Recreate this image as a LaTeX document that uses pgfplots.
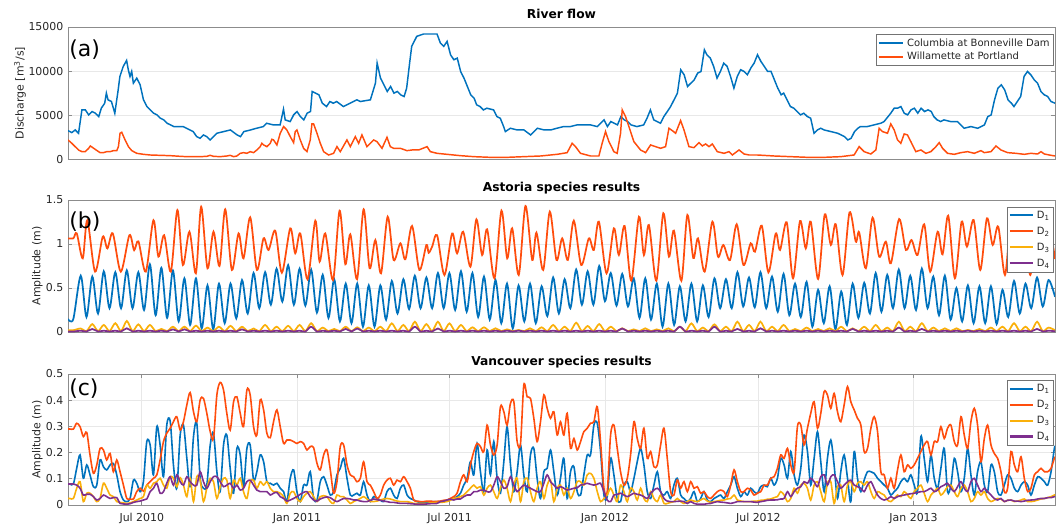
\documentclass[border=0pt]{standalone}
\usepackage{pgfplots}
\pgfplotsset{compat=1.18}
\usepackage{pgfplotstable}
\usepackage{fontspec}
\setmainfont{DejaVu Sans}

\definecolor{cblue}{RGB}{0,114,189}
\definecolor{cred}{RGB}{255,77,13}
\definecolor{cyel}{RGB}{250,176,10}
\definecolor{cpur}{RGB}{126,47,142}

% x values are days counted from 1 Jan 2010
% Columbia at Bonneville Dam, daily discharge (m^3/s)
\pgfplotstableread{
day q
93.5 3258
98 3030
102 3333
106 2955
110 5606
114 5606
118 5038
122 5417
126 5227
130 4849
133 5796
137 6364
139 7500
141 6743
145 6553
149 5227
153 7879
155 9394
159 10530
163 11212
165 10152
167 9394
169 9962
171 8636
175 9205
179 8447
183 6743
187 5985
191 5606
195 5227
199 5038
203 4659
207 4470
211 4091
215 3902
219 3712
222 3712
230 3712
238 3333
242 3144
246 2576
250 2386
254 2765
258 2576
262 2197
270 2955
278 3144
286 3333
294 2765
298 2576
302 3144
310 3333
317 3523
325 3712
329 4091
337 3902
345 3902
349 5682
351 4470
357 4280
361 5038
365 5417
369 4849
373 4470
377 5227
381 5417
383 7690
387 7500
391 7311
395 6364
400 5985
404 6553
408 6364
412 6553
420 5985
428 6364
436 6743
440 6553
452 6743
458 8636
460 10909
464 9205
468 8447
472 7690
476 8258
480 7500
484 7690
488 7311
492 7121
495 8068
499 11288
501 12803
507 13940
515 14205
523 14205
531 14205
535 13182
539 12803
543 13372
547 11856
551 11288
555 11478
559 9962
563 9205
567 8258
571 7311
575 6932
578 6174
582 5985
586 5606
590 5796
598 5606
602 4849
606 4659
610 3712
612 3144
618 3523
626 3333
634 3333
642 2765
650 3523
658 3333
666 3333
673 3523
681 3712
689 3712
697 3902
705 3902
713 3902
721 3712
729 4470
733 3712
737 4280
745 3902
749 4849
753 4470
757 4280
761 3902
768 3712
776 3902
780 4659
784 5606
788 4470
792 4280
796 4091
800 4849
804 5417
808 5985
812 6743
816 7500
820 10152
824 9584
828 8258
832 8636
836 9015
840 9773
844 9962
848 12424
851 11856
855 11478
859 10530
863 9205
867 9962
871 10909
875 10530
879 9394
883 8068
887 9394
891 10152
895 9962
899 9584
903 10341
907 10909
911 11856
915 11099
919 10530
923 9962
927 9962
931 9015
935 8068
939 7311
942 7500
946 6743
950 5985
954 5796
958 5417
962 5038
966 5227
970 4849
974 4659
978 2955
982 3333
986 3523
990 3333
998 3144
1006 2955
1014 2576
1018 2197
1022 2386
1026 3144
1030 3523
1033 3712
1041 3712
1049 3902
1057 4091
1061 4280
1069 5227
1073 5796
1077 5796
1081 5985
1085 5227
1089 5038
1093 5606
1097 5796
1101 5227
1105 5796
1109 5417
1113 5606
1117 5417
1120 4849
1124 4470
1128 4280
1132 4470
1140 4280
1148 4280
1152 3902
1156 3523
1164 3712
1172 3523
1180 3902
1184 4849
1188 5038
1192 6743
1196 8068
1200 8447
1204 7879
1208 6743
1212 6364
1215 5985
1219 6553
1223 7121
1227 9394
1231 9962
1235 9584
1239 9015
1243 8636
1247 7690
1251 7311
1255 7121
1259 6553
1263.7 6364
}\columbia

% Willamette at Portland, daily discharge (m^3/s)
\pgfplotstableread{
day q
93.5 2197
98 1818
102 1439
106 1061
110 871
114 871
118 1250
120 1515
124 1250
128 985
131.5 758
135.5 758
139.4 871
143.4 871
147.3 985
151.3 985
153.3 1439
155.2 2955
157.2 3068
161.2 2197
165.1 1439
169.1 985
175 682
183 568
190.8 492
202.7 455
214.6 417
226.5 341
234.4 303
242.3 303
250.2 303
258.1 341
262 455
266 341
273.9 303
281.8 379
285.8 455
289.8 303
293.7 379
297.7 682
301.6 758
305.6 682
309.5 871
313.5 758
317.4 1061
321.4 1439
323.4 1818
325.4 1629
329.3 1439
333.3 1818
335.2 2273
337.2 2197
341.2 1629
345.1 2955
349.1 3712
353 3333
357 2576
361 1894
362.9 3144
364.9 3333
368.9 2197
372.8 1250
376.8 871
380.7 2197
382.7 4015
384.7 4015
388.7 2955
392.6 1818
396.6 871
402.5 492
408.4 682
412.4 1439
416.3 871
424.2 2197
428.2 1439
434.1 2576
438.1 1818
442 2765
447.9 1439
455.9 2197
459.8 2008
465.8 1250
471.7 2500
475.6 1439
479.6 1250
487.5 1250
495.4 985
501.4 1061
509.3 1061
519.2 1439
523.1 871
531 682
542.9 568
558.7 417
574.5 303
594.3 227
614.1 227
633.9 303
653.7 379
673.4 568
685.3 758
691.2 1818
695.2 1439
701.1 682
713 379
722.9 379
726.8 1818
730.8 3144
734.8 2008
740.7 871
744.6 682
748.6 2955
750.6 5606
754.5 4849
758.5 3712
764.4 2008
772.3 1061
778.3 758
784.2 1629
790.1 1439
796.1 1250
802 1439
806 3523
809.9 3258
813.9 2955
819.8 4394
823.8 3333
829.7 1439
835.6 1326
841.6 1894
845.5 1515
849.5 1742
853.5 1439
857.4 1742
863.3 871
871.3 682
877.2 871
881.1 492
889.1 1061
895 606
900.9 492
910.8 492
930.6 379
950.4 303
970.2 227
989.9 227
1009.7 303
1025.5 492
1031.5 1439
1037.4 871
1045.3 606
1051.3 1061
1055.2 3523
1059.2 3144
1065.1 2955
1069 4015
1073 3333
1077 2197
1080.9 1818
1084.9 2879
1088.8 2765
1092.8 2008
1098.7 871
1104.7 1061
1110.6 682
1116.5 871
1122.5 1439
1126.4 1894
1130.4 1250
1136.3 682
1144.2 568
1152.1 758
1160 871
1168 682
1175.9 985
1179.8 758
1187.8 871
1193.7 1515
1199.6 1061
1207.5 758
1217.4 682
1227.3 568
1235.2 682
1243.1 606
1247.1 871
1251 606
1259 455
1263.7 379
}\willamette

% Astoria: envelope extremes of D1, D3, D4 (m)
\pgfplotstableread{
day d1 d3 d4
93.5 0.148 0.020 0.005
99.8 0.148 0.020 0.005
108.6 0.64 0.04 0.015
115.4 0.17 0.010 0.006
122.3 0.63 0.09 0.034
129.1 0.21 0.010 0.006
135.9 0.69 0.08 0.015
142.7 0.27 0.010 0.006
149.6 0.68 0.10 0.015
156.4 0.27 0.010 0.006
163.2 0.70 0.125 0.042
170.0 0.27 0.010 0.006
176.9 0.68 0.087 0.015
183.7 0.25 0.010 0.006
190.6 0.77 0.08 0.015
197.4 0.19 0.010 0.006
204.2 0.73 0.035 0.015
211.0 0.16 0.010 0.006
217.9 0.70 0.06 0.03
224.7 0.12 0.010 0.006
231.5 0.61 0.06 0.03
238.3 0.08 0.010 0.006
245.2 0.61 0.072 0.015
252.0 0.04 0.010 0.006
258.9 0.53 0.05 0.015
265.7 0.03 0.010 0.006
272.5 0.55 0.06 0.015
279.3 0.10 0.010 0.006
286.2 0.55 0.07 0.015
293.0 0.155 0.010 0.006
299.8 0.59 0.06 0.03
306.6 0.21 0.010 0.006
313.5 0.67 0.04 0.015
320.3 0.27 0.010 0.006
327.2 0.68 0.08 0.015
334.0 0.31 0.010 0.006
340.8 0.72 0.06 0.015
347.6 0.345 0.010 0.006
354.5 0.76 0.07 0.015
361.3 0.31 0.010 0.006
368.1 0.72 0.08 0.015
374.9 0.30 0.010 0.006
381.8 0.71 0.10 0.06
388.6 0.22 0.010 0.006
395.5 0.65 0.05 0.015
402.3 0.16 0.010 0.006
409.1 0.60 0.035 0.015
415.9 0.12 0.010 0.006
422.8 0.55 0.06 0.035
429.6 0.10 0.010 0.006
436.4 0.55 0.053 0.04
443.2 0.06 0.010 0.006
450.1 0.53 0.05 0.015
456.9 0.06 0.010 0.006
463.8 0.53 0.06 0.015
470.6 0.14 0.010 0.006
477.4 0.58 0.098 0.015
484.2 0.21 0.010 0.006
491.1 0.60 0.08 0.015
497.9 0.26 0.010 0.006
504.7 0.64 0.117 0.06
511.5 0.27 0.010 0.006
518.4 0.62 0.09 0.015
525.2 0.27 0.010 0.006
532.1 0.67 0.117 0.04
538.9 0.27 0.010 0.006
545.7 0.67 0.098 0.015
552.5 0.25 0.010 0.006
559.4 0.69 0.08 0.015
566.2 0.23 0.010 0.006
573.0 0.67 0.053 0.015
579.8 0.17 0.010 0.006
586.7 0.63 0.053 0.015
593.5 0.14 0.010 0.006
600.4 0.59 0.042 0.015
607.2 0.10 0.010 0.006
614.0 0.55 0.03 0.015
620.8 0.04 0.010 0.006
627.7 0.53 0.023 0.015
634.5 0.12 0.010 0.006
641.3 0.55 0.042 0.015
648.1 0.10 0.010 0.006
655.0 0.52 0.053 0.015
661.8 0.18 0.010 0.006
668.7 0.62 0.08 0.015
675.5 0.21 0.010 0.006
682.3 0.60 0.06 0.015
689.1 0.27 0.010 0.006
696.0 0.71 0.106 0.015
702.8 0.31 0.010 0.006
709.6 0.69 0.068 0.015
716.4 0.31 0.010 0.006
723.3 0.75 0.09 0.015
730.1 0.35 0.010 0.006
737.0 0.67 0.06 0.015
743.8 0.30 0.010 0.006
750.6 0.66 0.042 0.04
757.4 0.29 0.010 0.006
764.3 0.61 0.03 0.015
771.1 0.16 0.010 0.006
777.9 0.61 0.042 0.015
784.7 0.14 0.010 0.006
791.6 0.55 0.03 0.015
798.4 0.06 0.010 0.006
805.3 0.55 0.042 0.015
812.1 0.08 0.010 0.006
818.9 0.52 0.06 0.06
825.7 0.12 0.010 0.006
832.6 0.55 0.098 0.015
839.4 0.12 0.010 0.006
846.2 0.53 0.05 0.015
853.0 0.17 0.010 0.006
859.9 0.61 0.087 0.06
866.7 0.27 0.010 0.006
873.6 0.60 0.06 0.015
880.4 0.27 0.010 0.006
887.2 0.68 0.117 0.035
894.0 0.29 0.010 0.006
900.9 0.62 0.08 0.015
907.7 0.28 0.010 0.006
914.5 0.68 0.117 0.042
921.3 0.27 0.010 0.006
928.2 0.63 0.06 0.015
935.0 0.23 0.010 0.006
941.9 0.66 0.08 0.015
948.7 0.19 0.010 0.006
955.5 0.55 0.034 0.015
962.3 0.17 0.010 0.006
969.2 0.57 0.05 0.015
976.0 0.06 0.010 0.006
982.8 0.48 0.034 0.015
989.6 0.10 0.010 0.006
996.5 0.52 0.042 0.015
1003.3 0.03 0.010 0.006
1010.2 0.46 0.06 0.015
1017.0 0.08 0.010 0.006
1023.8 0.55 0.042 0.035
1030.6 0.16 0.010 0.006
1037.5 0.56 0.06 0.015
1044.3 0.21 0.010 0.006
1051.1 0.67 0.08 0.015
1057.9 0.23 0.010 0.006
1064.8 0.65 0.05 0.015
1071.6 0.27 0.010 0.006
1078.5 0.71 0.117 0.05
1085.3 0.27 0.010 0.006
1092.1 0.64 0.06 0.015
1098.9 0.25 0.010 0.006
1105.8 0.72 0.10 0.035
1112.6 0.27 0.010 0.006
1119.4 0.63 0.05 0.015
1126.2 0.19 0.010 0.006
1133.1 0.64 0.042 0.015
1139.9 0.14 0.010 0.006
1146.8 0.50 0.042 0.015
1153.6 0.12 0.010 0.006
1160.4 0.53 0.023 0.015
1167.2 0.10 0.010 0.006
1174.1 0.52 0.034 0.015
1180.9 0.10 0.010 0.006
1187.7 0.52 0.05 0.015
1194.5 0.09 0.010 0.006
1201.4 0.48 0.06 0.015
1208.2 0.17 0.010 0.006
1215.1 0.58 0.10 0.015
1221.9 0.21 0.010 0.006
1228.7 0.55 0.06 0.015
1235.5 0.27 0.010 0.006
1242.4 0.62 0.117 0.035
1249.2 0.29 0.010 0.006
1256.0 0.59 0.05 0.015
1263.7 0.40 0.020 0.008
}\astoriaA

% Astoria: envelope extremes of D2 (m)
\pgfplotstableread{
day d2
93.5 1.064
99.8 1.064
103.9 1.12
111.0 0.837
116.4 1.27
125.6 0.686
134.7 1.083
140.2 0.95
146.6 1.12
156.1 0.686
166.3 1.10
171.9 0.93
177.0 1.03
185.7 0.686
194.8 1.27
200.7 0.856
207.5 1.10
215.4 0.686
223.2 1.386
229.7 0.761
237.5 1.14
245.1 0.667
251.4 1.424
258.9 0.724
266.0 1.14
273.1 0.75
279.9 1.394
287.8 0.705
295.7 1.12
301.6 0.837
309.5 1.303
317.5 0.705
325.3 1.064
331.3 0.932
339.2 1.152
347.1 0.674
357.0 1.178
362.9 0.894
368.9 1.12
377.5 0.598
386.7 1.265
391.8 0.80
398.5 1.12
407.7 0.59
415.5 1.379
422.3 0.77
428.2 1.11
436.2 0.60
444.0 1.394
451.1 0.724
457.9 1.045
464.6 0.667
472.5 1.31
479.6 0.818
487.6 1.008
493.5 0.826
501.4 1.205
510.1 0.705
518.4 0.989
521.1 0.90
525.2 0.97
531.1 1.10
539.8 0.648
548.9 1.12
554.8 0.894
562.0 1.14
570.6 0.742
577.7 1.28
584.5 0.875
590.4 1.167
599.1 0.61
607.4 1.379
614.2 0.837
620.1 1.178
627.9 0.648
635.9 1.432
643.9 0.818
648.9 1.129
656.9 0.705
664.7 1.367
672.7 0.818
679.4 1.064
686.1 0.818
693.2 1.265
702.0 0.761
711.0 1.064
716.9 0.932
722.9 1.254
732.0 0.667
740.7 1.178
746.6 0.875
753.4 1.205
761.3 0.583
770.4 1.31
776.3 0.875
782.2 1.216
791.0 0.583
799.3 1.349
806.0 0.856
811.9 1.152
820.7 0.583
827.8 1.33
834.9 0.84
840.4 1.064
848.3 0.686
857.5 1.254
864.1 0.856
870.5 0.989
878.4 0.818
886.3 1.224
894.3 0.761
902.9 1.008
908.0 0.913
916.0 1.208
923.9 0.678
932.6 1.12
937.7 0.932
945.6 1.246
953.1 0.61
961.4 1.261
968.2 0.95
974.1 1.254
982.8 0.602
990.7 1.337
997.9 0.989
1003.8 1.224
1011.8 0.648
1020.1 1.36
1027.5 1.027
1031.5 1.133
1039.4 0.724
1047.4 1.30
1055.2 0.856
1063.1 1.027
1069.1 0.78
1078.9 1.284
1086.9 0.932
1093.6 1.045
1100.7 0.875
1108.6 1.224
1115.7 0.686
1124.5 1.14
1130.4 0.883
1137.1 1.322
1145.0 0.61
1153.0 1.254
1159.3 0.97
1167.2 1.273
1175.1 0.705
1183.0 1.292
1189.8 0.989
1196.4 1.197
1204.4 0.648
1211.5 1.273
1219.4 0.875
1227.3 1.216
1234.4 0.648
1243.2 1.29
1250.3 0.91
1256.9 1.178
1263.7 0.83
}\astoriaB

% Vancouver: species amplitudes (m)
\pgfplotstableread{
day d1 d2 d3 d4
93.5 0.080 0.290 0.025 0.080
95.9 0.080 0.290 0.025 0.080
99.9 0.080 0.290 0.025 0.080
103.8 0.140 0.312 0.064 0.076
107.8 0.191 0.299 0.089 0.064
111.7 0.102 0.261 0.013 0.038
115.7 0.153 0.277 0.045 0.041
119.6 0.115 0.191 0.045 0.041
123.6 0.070 0.121 0.032 0.032
127.6 0.076 0.153 0.013 0.019
131.5 0.172 0.216 0.025 0.025
135.5 0.146 0.210 0.083 0.038
139.4 0.134 0.172 0.064 0.032
143.4 0.153 0.197 0.038 0.025
147.3 0.159 0.127 0.032 0.028
151.3 0.115 0.172 0.013 0.028
155.2 0.051 0.127 0.010 0.006
159.2 0.019 0.076 0.008 0.004
163.2 0.013 0.025 0.006 0.003
167.1 0.025 0.023 0.008 0.005
171.1 0.095 0.023 0.013 0.010
175.0 0.083 0.051 0.019 0.013
179.0 0.051 0.064 0.025 0.015
182.9 0.089 0.053 0.032 0.019
186.9 0.242 0.076 0.076 0.023
190.9 0.229 0.089 0.064 0.051
194.8 0.115 0.102 0.083 0.064
198.8 0.299 0.115 0.089 0.083
202.7 0.229 0.172 0.102 0.045
206.7 0.108 0.242 0.076 0.051
210.6 0.305 0.274 0.064 0.083
214.6 0.321 0.293 0.108 0.108
218.5 0.153 0.318 0.102 0.076
222.5 0.064 0.337 0.070 0.115
226.5 0.267 0.286 0.104 0.089
230.4 0.305 0.318 0.076 0.076
234.4 0.178 0.382 0.032 0.108
238.3 0.070 0.429 0.102 0.089
242.3 0.261 0.356 0.013 0.076
246.2 0.312 0.318 0.108 0.076
250.2 0.102 0.401 0.095 0.127
254.1 0.064 0.407 0.013 0.089
258.1 0.076 0.350 0.064 0.064
262.1 0.229 0.280 0.102 0.089
266.0 0.274 0.254 0.089 0.108
270.0 0.127 0.420 0.025 0.108
273.9 0.051 0.468 0.070 0.089
277.9 0.229 0.439 0.102 0.070
281.8 0.267 0.350 0.095 0.076
285.8 0.140 0.286 0.025 0.083
289.8 0.045 0.394 0.095 0.064
293.7 0.216 0.413 0.076 0.076
297.7 0.191 0.350 0.102 0.057
301.6 0.070 0.299 0.051 0.064
305.6 0.216 0.439 0.025 0.089
309.5 0.229 0.420 0.089 0.095
313.5 0.095 0.299 0.095 0.076
317.4 0.127 0.267 0.064 0.057
321.4 0.191 0.401 0.089 0.051
325.4 0.165 0.363 0.076 0.051
329.3 0.089 0.274 0.089 0.051
333.3 0.083 0.257 0.064 0.038
337.2 0.076 0.318 0.051 0.045
341.2 0.083 0.363 0.051 0.048
345.1 0.064 0.299 0.045 0.032
349.1 0.051 0.235 0.032 0.025
353.0 0.013 0.248 0.006 0.015
357.0 0.102 0.248 0.045 0.019
361.0 0.134 0.242 0.051 0.025
364.9 0.051 0.235 0.025 0.032
368.9 0.013 0.242 0.013 0.041
372.8 0.076 0.235 0.032 0.048
376.8 0.076 0.210 0.045 0.051
380.7 0.127 0.223 0.051 0.032
384.7 0.025 0.219 0.032 0.019
388.7 0.019 0.159 0.013 0.015
392.6 0.089 0.134 0.032 0.023
396.6 0.108 0.191 0.036 0.028
400.5 0.076 0.210 0.032 0.031
404.5 0.038 0.134 0.013 0.028
408.4 0.051 0.045 0.006 0.019
412.4 0.115 0.089 0.038 0.013
416.3 0.140 0.223 0.032 0.019
420.3 0.178 0.229 0.032 0.025
424.3 0.102 0.153 0.019 0.025
428.2 0.038 0.115 0.006 0.023
432.2 0.038 0.108 0.013 0.019
436.1 0.045 0.089 0.019 0.019
440.1 0.038 0.102 0.025 0.015
444.0 0.089 0.165 0.032 0.013
448.0 0.038 0.089 0.023 0.013
451.9 0.013 0.076 0.013 0.018
455.9 0.032 0.051 0.013 0.023
459.9 0.025 0.025 0.015 0.020
463.8 0.019 0.038 0.019 0.018
467.8 0.013 0.076 0.023 0.015
471.7 0.051 0.095 0.025 0.013
475.7 0.064 0.102 0.023 0.010
479.6 0.038 0.076 0.019 0.010
483.6 0.025 0.095 0.015 0.008
487.6 0.064 0.089 0.013 0.006
491.5 0.076 0.108 0.013 0.006
495.5 0.038 0.089 0.013 0.006
499.4 0.025 0.064 0.010 0.005
503.4 0.019 0.019 0.006 0.004
507.3 0.013 0.015 0.006 0.003
511.3 0.009 0.013 0.006 0.003
515.2 0.008 0.013 0.006 0.003
519.2 0.010 0.015 0.006 0.004
523.2 0.013 0.015 0.008 0.005
527.1 0.013 0.013 0.009 0.005
531.1 0.013 0.014 0.010 0.006
535.0 0.013 0.015 0.010 0.013
539.0 0.015 0.018 0.011 0.015
542.9 0.019 0.019 0.013 0.019
546.9 0.023 0.025 0.018 0.022
550.8 0.025 0.032 0.025 0.019
554.8 0.032 0.045 0.028 0.023
558.8 0.045 0.089 0.032 0.023
562.7 0.076 0.115 0.038 0.032
566.7 0.102 0.089 0.051 0.038
570.6 0.165 0.153 0.064 0.038
574.6 0.115 0.204 0.076 0.051
578.5 0.235 0.235 0.064 0.051
582.5 0.127 0.223 0.070 0.057
586.5 0.051 0.204 0.038 0.057
590.4 0.210 0.305 0.064 0.051
594.4 0.115 0.229 0.076 0.051
598.3 0.242 0.191 0.051 0.076
602.3 0.102 0.229 0.025 0.108
606.2 0.045 0.375 0.064 0.089
610.2 0.165 0.356 0.095 0.064
614.1 0.299 0.305 0.064 0.070
618.1 0.153 0.388 0.013 0.108
622.1 0.051 0.394 0.076 0.076
626.0 0.127 0.242 0.102 0.051
630.0 0.229 0.235 0.013 0.064
633.9 0.115 0.458 0.089 0.076
637.9 0.051 0.413 0.102 0.070
641.8 0.191 0.407 0.051 0.064
645.8 0.216 0.331 0.013 0.057
649.7 0.102 0.242 0.064 0.051
653.7 0.025 0.318 0.089 0.051
657.7 0.127 0.420 0.025 0.083
661.6 0.140 0.369 0.076 0.115
665.6 0.210 0.331 0.095 0.089
669.5 0.127 0.356 0.013 0.076
673.5 0.038 0.267 0.064 0.064
677.4 0.102 0.318 0.076 0.070
681.4 0.178 0.267 0.038 0.064
685.3 0.025 0.350 0.064 0.057
689.3 0.127 0.216 0.025 0.060
693.3 0.146 0.254 0.051 0.064
697.2 0.051 0.210 0.089 0.066
701.2 0.038 0.242 0.089 0.076
705.1 0.115 0.280 0.076 0.079
709.1 0.191 0.293 0.115 0.083
713.0 0.191 0.312 0.121 0.079
717.0 0.305 0.318 0.102 0.076
721.0 0.312 0.375 0.051 0.079
724.9 0.204 0.242 0.013 0.083
728.9 0.038 0.064 0.025 0.051
732.8 0.032 0.051 0.038 0.019
736.8 0.178 0.267 0.064 0.013
740.7 0.115 0.305 0.038 0.038
744.7 0.025 0.216 0.013 0.041
748.6 0.013 0.127 0.076 0.045
752.6 0.076 0.076 0.051 0.038
756.6 0.089 0.102 0.013 0.032
760.5 0.051 0.191 0.064 0.038
764.5 0.102 0.318 0.051 0.045
768.4 0.165 0.254 0.019 0.041
772.4 0.216 0.216 0.064 0.038
776.3 0.153 0.293 0.025 0.032
780.3 0.051 0.178 0.013 0.025
784.3 0.025 0.204 0.051 0.045
788.2 0.076 0.146 0.025 0.057
792.2 0.127 0.153 0.013 0.064
796.1 0.051 0.229 0.038 0.051
800.1 0.038 0.293 0.006 0.025
804.0 0.051 0.178 0.006 0.015
808.0 0.025 0.051 0.010 0.013
811.9 0.076 0.038 0.013 0.013
815.9 0.102 0.095 0.025 0.014
819.9 0.038 0.064 0.013 0.015
823.8 0.025 0.089 0.006 0.013
827.8 0.013 0.051 0.013 0.006
831.7 0.025 0.089 0.019 0.013
835.7 0.051 0.064 0.015 0.006
839.6 0.013 0.070 0.013 0.003
843.6 0.025 0.045 0.019 0.003
847.5 0.051 0.051 0.025 0.003
851.5 0.019 0.032 0.015 0.005
855.5 0.013 0.025 0.010 0.006
859.4 0.025 0.038 0.013 0.010
863.4 0.032 0.051 0.015 0.013
867.3 0.038 0.057 0.018 0.011
871.3 0.025 0.051 0.019 0.010
875.2 0.051 0.032 0.023 0.008
879.2 0.076 0.076 0.025 0.006
883.2 0.108 0.134 0.038 0.009
887.1 0.064 0.089 0.019 0.013
891.1 0.032 0.051 0.015 0.013
895.0 0.051 0.051 0.013 0.013
899.0 0.038 0.064 0.013 0.013
902.9 0.064 0.057 0.013 0.013
906.9 0.051 0.038 0.015 0.011
910.8 0.045 0.045 0.015 0.010
914.8 0.070 0.051 0.018 0.013
918.8 0.076 0.076 0.019 0.015
922.7 0.070 0.076 0.022 0.018
926.7 0.102 0.102 0.023 0.019
930.6 0.076 0.108 0.028 0.019
934.6 0.102 0.140 0.032 0.020
938.5 0.178 0.191 0.051 0.023
942.5 0.153 0.178 0.038 0.025
946.5 0.102 0.216 0.013 0.051
950.4 0.204 0.153 0.025 0.032
954.4 0.115 0.127 0.064 0.051
958.3 0.076 0.299 0.045 0.064
962.3 0.140 0.305 0.076 0.070
966.2 0.267 0.229 0.083 0.089
970.2 0.204 0.293 0.064 0.083
974.1 0.076 0.350 0.019 0.102
978.1 0.178 0.394 0.076 0.089
982.1 0.280 0.293 0.089 0.070
986.0 0.165 0.350 0.051 0.108
990.0 0.051 0.433 0.013 0.115
993.9 0.178 0.420 0.083 0.076
997.9 0.248 0.369 0.089 0.108
1001.8 0.153 0.426 0.006 0.115
1005.8 0.025 0.356 0.070 0.089
1009.7 0.127 0.318 0.076 0.064
1013.7 0.191 0.382 0.013 0.076
1017.7 0.102 0.452 0.076 0.089
1021.6 0.013 0.394 0.089 0.095
1025.6 0.204 0.363 0.051 0.076
1029.5 0.102 0.331 0.083 0.070
1033.5 0.051 0.305 0.089 0.064
1037.4 0.095 0.204 0.076 0.051
1041.4 0.127 0.216 0.089 0.076
1045.4 0.127 0.293 0.051 0.089
1049.3 0.121 0.337 0.025 0.064
1053.3 0.102 0.280 0.051 0.038
1057.2 0.089 0.127 0.045 0.025
1061.2 0.076 0.115 0.038 0.019
1065.1 0.064 0.064 0.019 0.023
1069.1 0.038 0.102 0.013 0.032
1073.0 0.051 0.064 0.025 0.025
1077.0 0.064 0.134 0.038 0.032
1081.0 0.089 0.191 0.032 0.036
1084.9 0.102 0.127 0.051 0.038
1088.9 0.089 0.153 0.038 0.041
1092.8 0.115 0.140 0.025 0.043
1096.8 0.076 0.153 0.051 0.045
1100.7 0.051 0.178 0.064 0.048
1104.7 0.261 0.204 0.076 0.051
1108.6 0.178 0.229 0.045 0.051
1112.6 0.089 0.242 0.013 0.057
1116.6 0.191 0.191 0.038 0.064
1120.5 0.102 0.242 0.051 0.051
1124.5 0.064 0.242 0.064 0.057
1128.4 0.140 0.299 0.038 0.070
1132.4 0.216 0.254 0.051 0.076
1136.3 0.051 0.293 0.070 0.083
1140.3 0.076 0.305 0.076 0.064
1144.3 0.178 0.242 0.051 0.051
1148.2 0.127 0.229 0.032 0.070
1152.2 0.051 0.337 0.064 0.089
1156.1 0.102 0.267 0.076 0.064
1160.1 0.216 0.216 0.051 0.051
1164.0 0.115 0.318 0.013 0.089
1168.0 0.038 0.369 0.025 0.102
1171.9 0.127 0.305 0.051 0.076
1175.9 0.165 0.165 0.038 0.051
1179.9 0.076 0.254 0.051 0.064
1183.8 0.051 0.305 0.025 0.051
1187.8 0.153 0.229 0.013 0.038
1191.7 0.127 0.197 0.019 0.025
1195.7 0.051 0.178 0.025 0.019
1199.6 0.038 0.127 0.023 0.025
1203.6 0.076 0.051 0.013 0.013
1207.5 0.115 0.064 0.018 0.018
1211.5 0.102 0.204 0.019 0.019
1215.5 0.064 0.153 0.013 0.015
1219.4 0.051 0.127 0.015 0.015
1223.4 0.076 0.184 0.019 0.013
1227.3 0.089 0.102 0.023 0.015
1231.3 0.076 0.051 0.013 0.018
1235.2 0.038 0.064 0.013 0.019
1239.2 0.076 0.115 0.015 0.020
1243.2 0.108 0.127 0.019 0.023
1247.1 0.102 0.140 0.023 0.025
1251.1 0.089 0.127 0.025 0.025
1255.0 0.076 0.127 0.028 0.028
1259.0 0.127 0.140 0.032 0.028
1262.9 0.216 0.178 0.038 0.032
1263.7 0.220 0.180 0.038 0.032
}\vancouver

\pgfplotsset{
  panel/.style={
    scale only axis,
    width=740.25pt,
    xmin=93.5, xmax=1263.7,
    axis line style={draw=black!45, line width=0.5pt},
    major tick style={draw=black!45, line width=0.5pt},
    major tick length=3pt,
    ymajorgrids,
    grid style={draw=black!9, line width=0.5pt},
    tick label style={font=\fontsize{8.2}{9}\selectfont, text=black!85},
    /pgf/number format/assume math mode=true,
    label style={font=\fontsize{8.2}{9}\selectfont, text=black!85},
    every axis title/.style={at={(0.5,1)}, anchor=base, yshift=6.7pt,
      font=\bfseries\fontsize{9.2}{10}\selectfont},
    legend cell align=left,
    legend style={draw=black!55, line width=0.5pt, fill=white,
      font=\fontsize{7.5}{8.5}\selectfont, text=black!85,
      inner xsep=1pt, inner ysep=1pt, row sep=1pt},
    legend image code/.code={\draw[#1, line width=1.6pt] (0pt,0.25pt) -- (17.5pt,0.25pt);},
  },
}
\tikzset{plab/.style={font=\fontsize{16.5}{18}\selectfont, inner sep=0pt, anchor=west}}

\begin{document}
\begin{tikzpicture}
\path[use as bounding box] (0pt,0pt) rectangle (792pt,394.5pt);

% (a) river discharge
\begin{axis}[panel,
  at={(51pt,275pt)}, anchor=south west, height=99.25pt,
  ymin=0, ymax=15000, ytick={0,5000,10000,15000},
  scaled y ticks=false,
  yticklabel style={/pgf/number format/1000 sep={}},
  xtick=\empty,
  title={River flow},
  ylabel={Discharge [m\textsuperscript{3}/s]},
  ylabel style={at={(axis description cs:-0.0486,0.5)}, anchor=center},
  legend style={at={(0.999,0.945)}, anchor=north east, row sep=-1pt},
  legend image code/.code={\draw[#1, line width=1.6pt] (0pt,0.25pt) -- (18.5pt,0.25pt);},
]
\addplot[cblue, line width=1.1pt] table[x=day, y=q] {\columbia};
\addlegendentry{Columbia at Bonneville Dam}
\addplot[cred, line width=1.1pt] table[x=day, y=q] {\willamette};
\addlegendentry{Willamette at Portland}
\node[plab] at (rel axis cs:0.001,0.8315) {(a)};
\end{axis}

% (b) Astoria
\begin{axis}[panel,
  at={(51pt,145.5pt)}, anchor=south west, height=99pt,
  ymin=0, ymax=1.5, ytick={0,0.5,1,1.5},
  xtick=\empty,
  title={Astoria species results},
  ylabel={Amplitude (m)},
  ylabel style={at={(axis description cs:-0.031,0.5)}, anchor=center},
  legend style={at={(0.999,0.949)}, anchor=north east},
]
\addplot[cblue, line width=1.3pt, smooth] table[x=day, y=d1] {\astoriaA};
\addlegendentry{D\textsubscript{1}}
\addplot[cred, line width=1.3pt, smooth] table[x=day, y=d2] {\astoriaB};
\addlegendentry{D\textsubscript{2}}
\addplot[cyel, line width=1.3pt, smooth] table[x=day, y=d3] {\astoriaA};
\addlegendentry{D\textsubscript{3}}
\addplot[cpur, line width=1.3pt, smooth] table[x=day, y=d4] {\astoriaA};
\addlegendentry{D\textsubscript{4}}
\node[plab] at (rel axis cs:0.001,0.8356) {(b)};
\end{axis}

% (c) Vancouver
\begin{axis}[panel,
  at={(51pt,15.75pt)}, anchor=south west, height=98.25pt,
  ymin=0, ymax=0.5, ytick={0,0.1,0.2,0.3,0.4,0.5},
  xtick={181,365,546,730,912,1096},
  xticklabels={Jul 2010,Jan 2011,Jul 2011,Jan 2012,Jul 2012,Jan 2013},
  xticklabel style={yshift=-2.5pt},
  xmajorgrids,
  title={Vancouver species results},
  ylabel={Amplitude (m)},
  ylabel style={at={(axis description cs:-0.031,0.5)}, anchor=center},
  legend style={at={(0.999,0.954)}, anchor=north east},
]
\addplot[cblue, line width=1.2pt, smooth] table[x=day, y=d1] {\vancouver};
\addlegendentry{D\textsubscript{1}}
\addplot[cred, line width=1.2pt, smooth] table[x=day, y=d2] {\vancouver};
\addlegendentry{D\textsubscript{2}}
\addplot[cyel, line width=1.2pt, smooth] table[x=day, y=d3] {\vancouver};
\addlegendentry{D\textsubscript{3}}
\addplot[cpur, line width=1.2pt, smooth] table[x=day, y=d4] {\vancouver};
\addlegendentry{D\textsubscript{4}}
\node[plab] at (rel axis cs:0.001,0.891) {(c)};
\end{axis}
\end{tikzpicture}
\end{document}
